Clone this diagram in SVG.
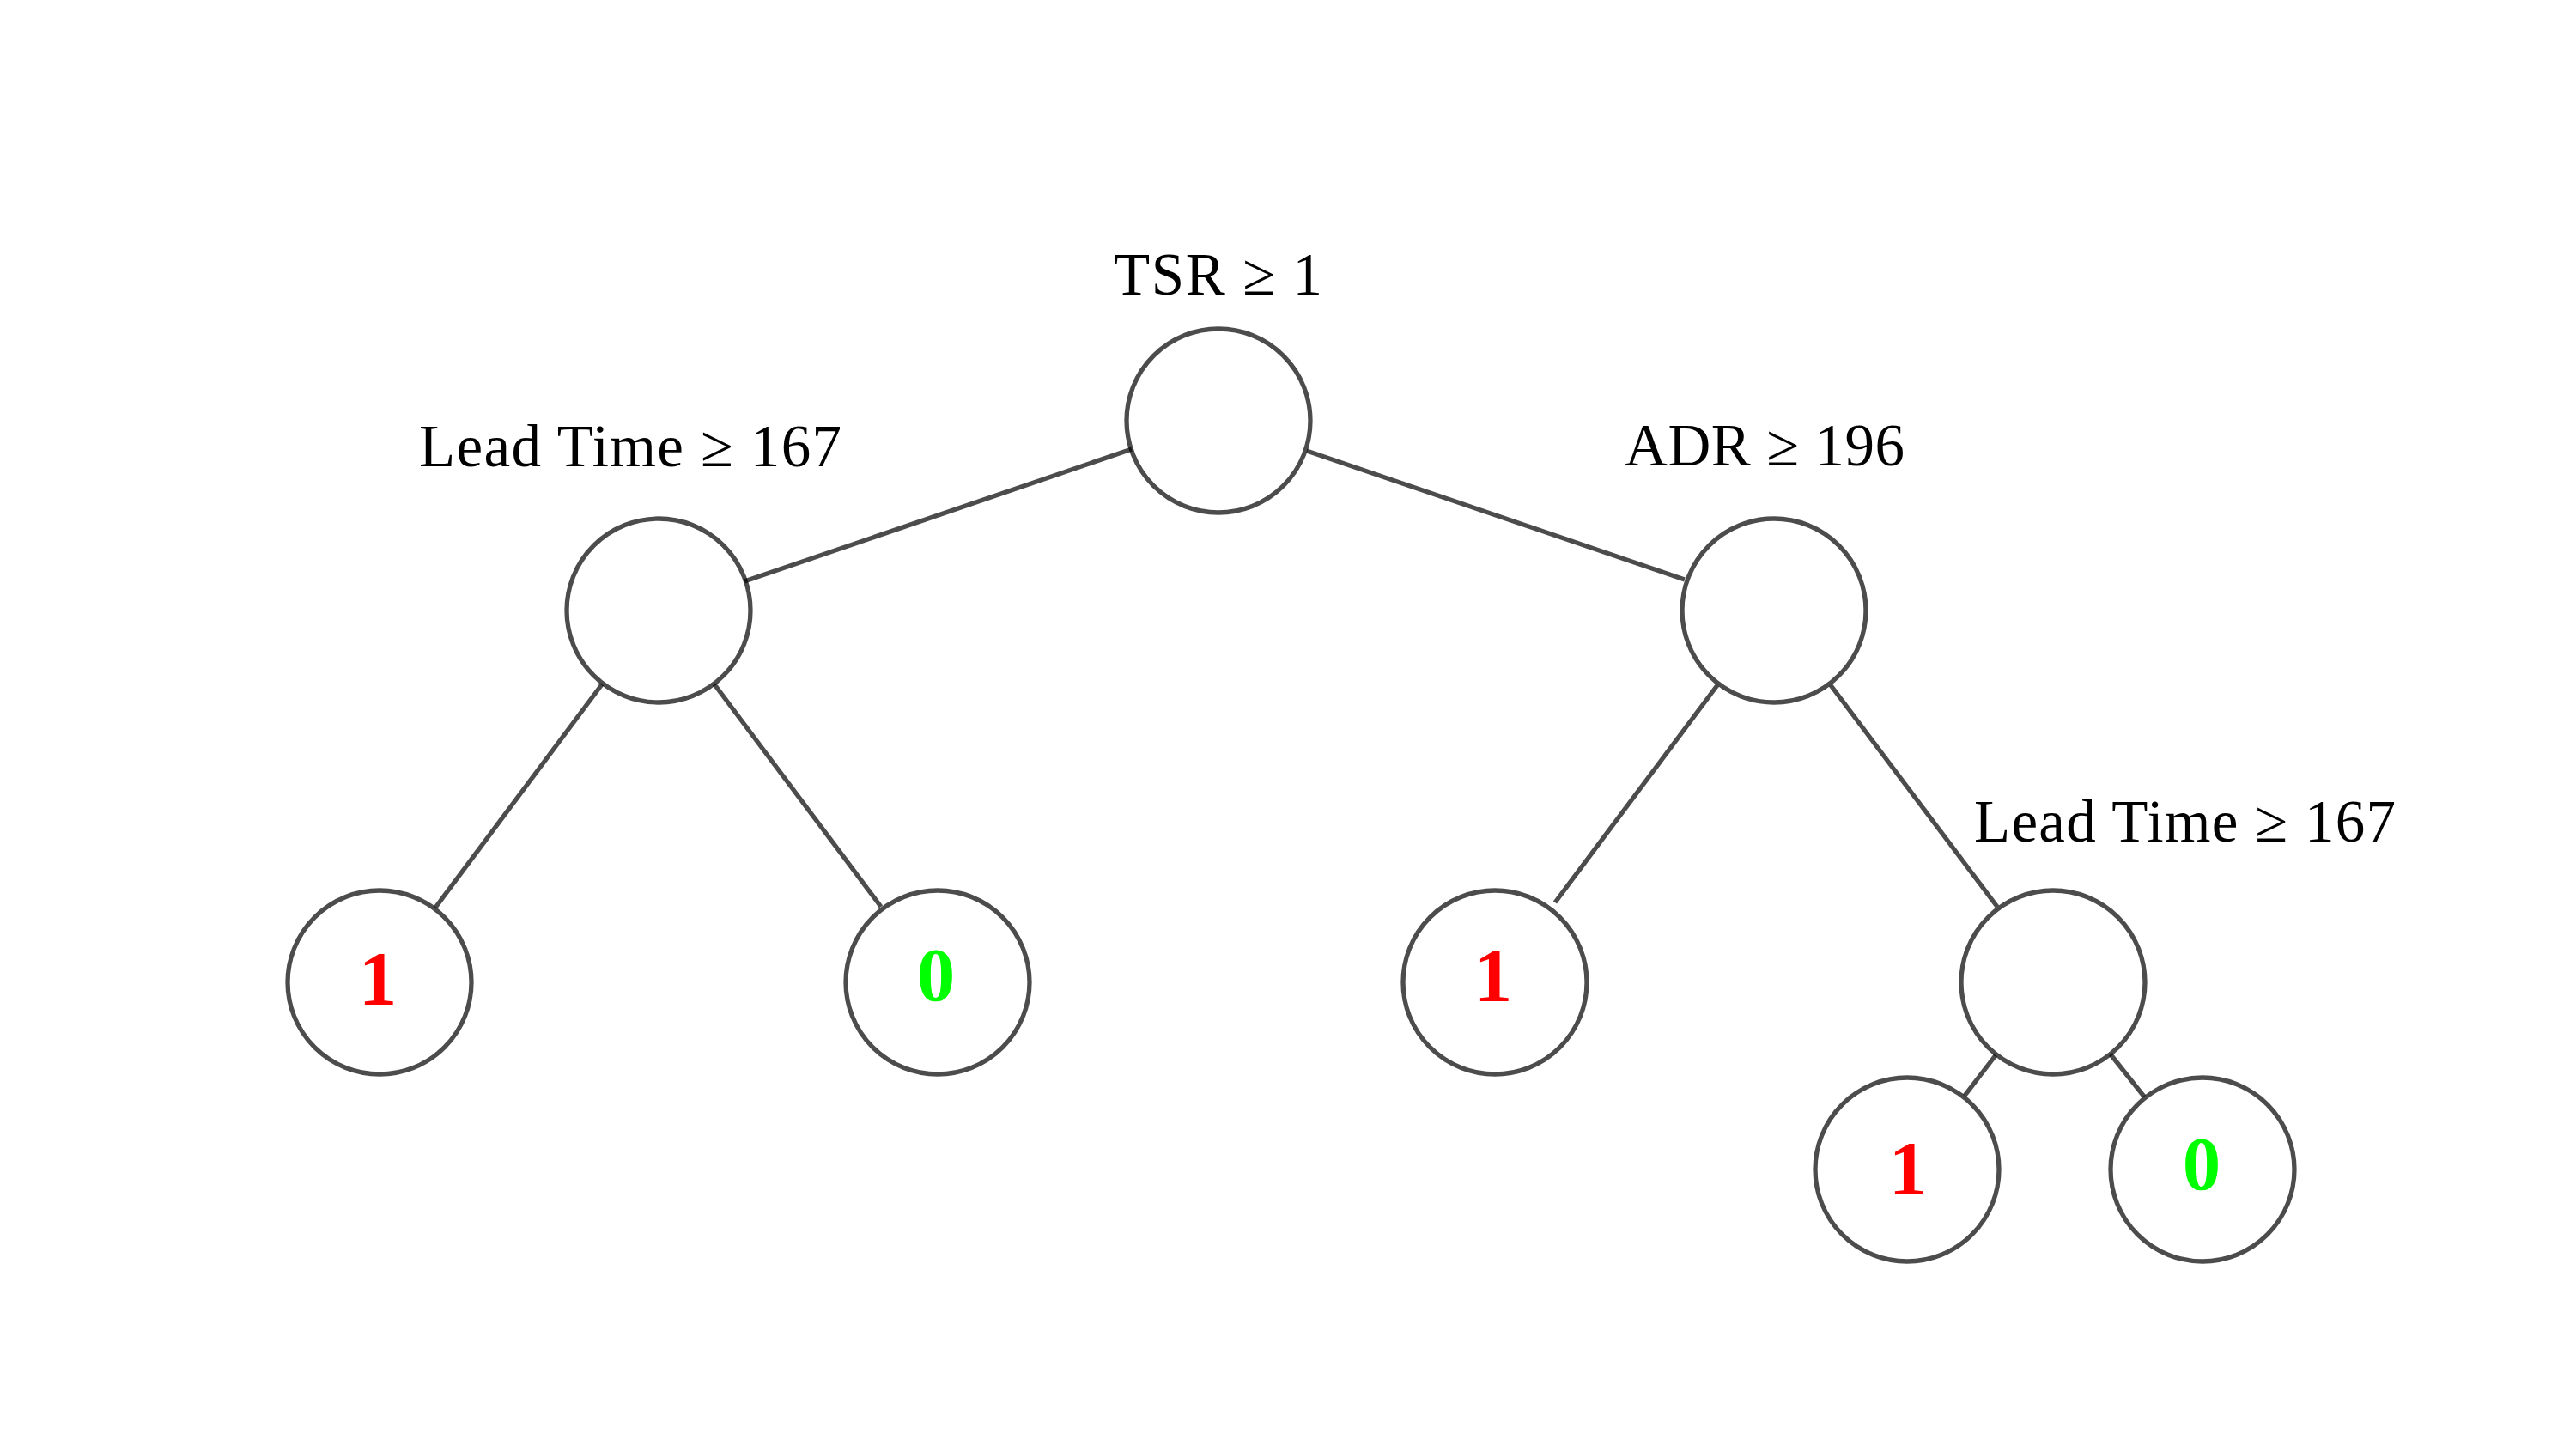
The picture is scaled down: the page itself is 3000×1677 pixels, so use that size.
<svg xmlns="http://www.w3.org/2000/svg" width="3000" height="1677" viewBox="0 0 3000 1677">
<style>
.n{fill:none;stroke:#000;stroke-opacity:0.7;stroke-width:5.3}
.e{stroke:#000;stroke-opacity:0.7;stroke-width:5.3;fill:none}
.lbl{font-family:"Liberation Serif","DejaVu Serif",serif;font-size:69px;fill:#000;text-anchor:start}
.d{font-family:"Liberation Serif","DejaVu Serif",serif;font-size:89px;font-weight:bold;text-anchor:middle}
.r{fill:#ff0000}
.g{fill:#00ff00}
</style>
<rect width="3000" height="1677" fill="#fff"/>
<g id="connectors">
<line class="e" x1="1318" y1="523" x2="867" y2="677"/>
<line class="e" x1="1522" y1="525" x2="1962" y2="675"/>
<line class="e" x1="701" y1="797" x2="507" y2="1057"/>
<line class="e" x1="832" y1="797" x2="1026" y2="1056"/>
<line class="e" x1="2000" y1="798" x2="1811" y2="1051"/>
<line class="e" x1="2132" y1="798" x2="2326" y2="1056"/>
<line class="e" x1="2324" y1="1229" x2="2288" y2="1276"/>
<line class="e" x1="2458" y1="1228" x2="2497" y2="1277"/>
</g>
<g id="root">
<circle class="n" cx="1419" cy="490" r="107"/>
<text class="lbl" x="1297" y="343" textLength="243">TSR ≥ 1</text>
</g>
<g id="left">
<circle class="n" cx="767" cy="711" r="107"/>
<text class="lbl" x="488" y="543" textLength="492">Lead Time ≥ 167</text>
</g>
<g id="right">
<circle class="n" cx="2066" cy="711" r="107"/>
<text class="lbl" x="1892" y="542" textLength="326">ADR ≥ 196</text>
</g>
<g id="leaf-ll">
<circle class="n" cx="442" cy="1144" r="107"/>
<text class="d r" x="440" y="1169">1</text>
</g>
<g id="leaf-lr">
<circle class="n" cx="1092" cy="1144" r="107"/>
<text class="d g" x="1090" y="1165">0</text>
</g>
<g id="leaf-rl">
<circle class="n" cx="1741" cy="1144" r="107"/>
<text class="d r" x="1739" y="1165">1</text>
</g>
<g id="node-rr">
<circle class="n" cx="2391" cy="1144" r="107"/>
<text class="lbl" x="2299" y="980" textLength="491">Lead Time ≥ 167</text>
</g>
<g id="leaf-rrl">
<circle class="n" cx="2221" cy="1362" r="107"/>
<text class="d r" x="2222" y="1390">1</text>
</g>
<g id="leaf-rrr">
<circle class="n" cx="2565" cy="1362" r="107"/>
<text class="d g" x="2564" y="1385">0</text>
</g>
</svg>
